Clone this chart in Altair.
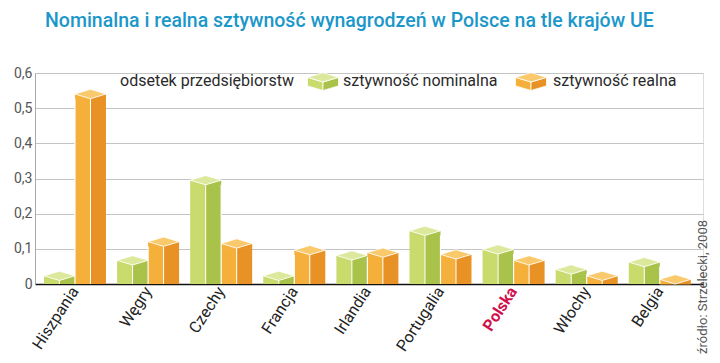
import altair as alt
import pandas as pd

# ---- data ----
countries = ["Hiszpania", "Węgry", "Czechy", "Francja", "Irlandia",
             "Portugalia", "Polska", "Włochy", "Belgia"]
nominal = [0.010, 0.054, 0.282, 0.010, 0.068, 0.138, 0.085, 0.028, 0.049]
real = [0.527, 0.107, 0.102, 0.083, 0.076, 0.071, 0.054, 0.010, 0.0]
y_ticks = [0, 0.1, 0.2, 0.3, 0.4, 0.5, 0.6]

title_text = "Nominalna i realna sztywność wynagrodzeń w Polsce na tle krajów UE"
legend_labels = ["odsetek przedsiębiorstw", "sztywność nominalna", "sztywność realna"]
source_text = "źródło: Strzelecki, 2008"

df = pd.DataFrame({"kraj": countries, "nom": nominal, "real": real})
df["top"] = df[["nom", "real"]].max(axis=1)

# ---- style ----
FONT = "Roboto, 'Open Sans', sans-serif"
GREEN = {"left": "#c8db6c", "right": "#a9c24a", "top": "#dce99c"}
ORANGE = {"left": "#f5b03c", "right": "#e89226", "top": "#f9c96c"}
R = 15.5                      # half width of one 3D box
SIZE = (2 * R) ** 2           # custom symbol: [-1,1] -> 2R px
TOP = "M0,0L-1,-0.3L0,-0.6L1,-0.3Z"
LEFT_TRI = "M-1,-0.3L0,0L0,0.04L-1,0.04Z"
RIGHT_TRI = "M1,-0.3L0,0L0,0.04L1,0.04Z"

W, H = 668, 211

x_enc = alt.X(
    "kraj:N", sort=countries, title=None,
    scale=alt.Scale(paddingInner=0, paddingOuter=0.069, align=0.34),
    axis=alt.Axis(
        labelAngle=-57, labelFontSize=16, labelFont=FONT, labelPadding=4,
        labelColor={"condition": {"test": "datum.value === 'Polska'", "value": "#d0104c"}, "value": "#222222"},
        labelFontWeight={"condition": {"test": "datum.value === 'Polska'", "value": "bold"}, "value": "normal"},
        ticks=False, grid=False, domainColor="#111111", domainWidth=1.5,
    ),
)


def y_enc(field):
    return alt.Y(
        f"{field}:Q", title=None,
        scale=alt.Scale(domain=[0, 0.6], nice=False, zero=True),
        axis=alt.Axis(
            values=y_ticks, ticks=False, labelPadding=3, labelFontSize=14,
            labelFont=FONT, labelColor="#555555",
            labelExpr="replace(format(datum.value, '.1~f'), '.', ',')",
            grid=True, gridColor="#c4c4c4", gridWidth=1,
            domainColor="#aaaaaa", domainWidth=1,
        ),
    )


base = alt.Chart(df)
layers = []


def box(field, cx, col):
    out = []
    out.append(base.mark_bar(width=R, xOffset=cx - R / 2, color=col["left"])
               .encode(x=x_enc, y=y_enc(field)))
    out.append(base.mark_bar(width=R, xOffset=cx + R / 2, color=col["right"])
               .encode(x=x_enc, y=y_enc(field)))
    out.append(base.mark_point(shape=LEFT_TRI, filled=True, size=SIZE, xOffset=cx,
                               fill=col["left"], opacity=1, strokeWidth=0)
               .encode(x=x_enc, y=y_enc(field)))
    out.append(base.mark_point(shape=RIGHT_TRI, filled=True, size=SIZE, xOffset=cx,
                               fill=col["right"], opacity=1, strokeWidth=0)
               .encode(x=x_enc, y=y_enc(field)))
    out.append(base.mark_rule(color="white", strokeWidth=1, xOffset=cx)
               .encode(x=x_enc, y=y_enc(field), y2=alt.datum(0)))
    out.append(base.mark_point(shape=TOP, filled=True, size=SIZE, xOffset=cx,
                               fill=col["top"], stroke="white", strokeWidth=0.8, opacity=1)
               .encode(x=x_enc, y=y_enc(field)))
    return out


layers += box("nom", -R, GREEN)
layers += box("real", R, ORANGE)
# white separator between the two boxes of a group
layers.append(base.mark_rule(color="white", strokeWidth=1.2)
              .encode(x=x_enc, y=y_enc("top"), y2=alt.datum(0)))

# ---- title ----
one = pd.DataFrame({"t": [title_text]})
layers.append(alt.Chart(one).mark_text(
    align="left", baseline="alphabetic", font=FONT, fontSize=19.5, fontWeight=500,
    color="#1c97c9").encode(x=alt.value(10), y=alt.value(-46), text="t:N"))

# ---- legend ----
leg_pos = [(85, legend_labels[0]), (308, legend_labels[1]), (518, legend_labels[2])]
for px, lab in leg_pos:
    layers.append(alt.Chart(pd.DataFrame({"t": [lab]})).mark_text(
        align="left", baseline="alphabetic", font=FONT, fontSize=16,
        color="#2a2a2a").encode(x=alt.value(px), y=alt.value(13), text="t:N"))

ICON_LEFT = "M-1,-0.3L0,0L0,0.55L-1,0.25Z"
ICON_RIGHT = "M1,-0.3L0,0L0,0.55L1,0.25Z"
icon_df = pd.DataFrame({"k": [0]})
for cx, col in [(288, GREEN), (496, ORANGE)]:
    for shp, fc in [(ICON_LEFT, col["left"]), (ICON_RIGHT, col["right"]), (TOP, col["top"])]:
        layers.append(alt.Chart(icon_df).mark_point(
            shape=shp, filled=True, size=SIZE, fill=fc, opacity=1,
            stroke="white", strokeWidth=0.8).encode(x=alt.value(cx), y=alt.value(9)))

# ---- source ----
layers.append(alt.Chart(pd.DataFrame({"t": [source_text]})).mark_text(
    align="left", baseline="alphabetic", angle=270, font=FONT, fontSize=13,
    color="#555555").encode(x=alt.value(672), y=alt.value(281), text="t:N"))

chart = alt.layer(*layers).properties(
    width=W, height=H,
    autosize=alt.AutoSizeParams(type="none"),
    padding={"left": 27, "top": 65, "right": 9, "bottom": 71},
).configure_view(stroke=None).configure(background="white")

chart.save("out.html", embed_options={"renderer": "svg", "actions": False})
